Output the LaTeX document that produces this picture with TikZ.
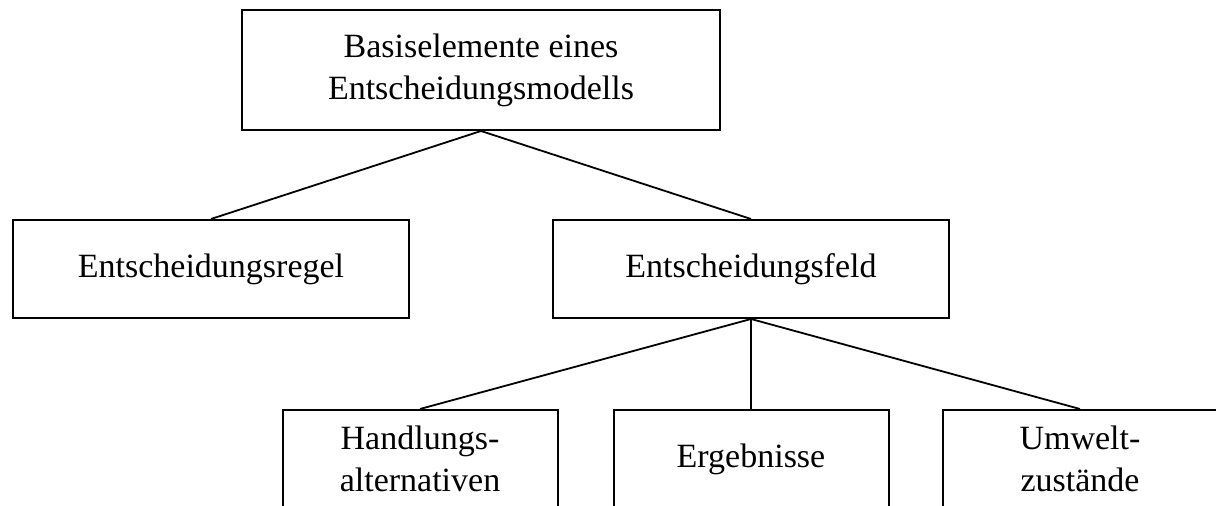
\documentclass[tikz,border=0pt]{standalone}
\usepackage{fontspec}
\setmainfont{Liberation Serif}
\begin{document}
\begin{tikzpicture}[x=0.5pt,y=-0.5pt,
		kasten/.style={draw, line width=1pt, align=center, inner sep=0pt,
			font=\fontsize{17}{21}\selectfont},
		verbindung/.style={line width=0.9pt}]
		\clip (0,0) rectangle (1216,506);
		\node[kasten, minimum width=239pt, minimum height=60pt] (modell) at (481,70) {Basiselemente eines\\Entscheidungsmodells};
		\node[kasten, minimum width=198pt, minimum height=49pt] (regel) at (211,269) {Entscheidungsregel};
		\node[kasten, minimum width=198pt, minimum height=49pt] (feld) at (751,269) {Entscheidungsfeld};
		\node[kasten, minimum width=137.5pt, minimum height=49pt] (handlung) at (420,459) {Handlungs-\\alternativen};
		\node[kasten, minimum width=137.5pt, minimum height=49pt] (ergebnis) at (751,459) {Ergebnisse};
		\node[kasten, minimum width=137.5pt, minimum height=49pt] (umwelt) at (1080,459) {Umwelt-\\zustände};
		\draw[verbindung] (modell.south) -- (regel.north);
		\draw[verbindung] (modell.south) -- (feld.north);
		\foreach \k in {handlung, ergebnis, umwelt}{
			\draw[verbindung] (feld.south) -- (\k.north);
		}
\end{tikzpicture}
\end{document}
